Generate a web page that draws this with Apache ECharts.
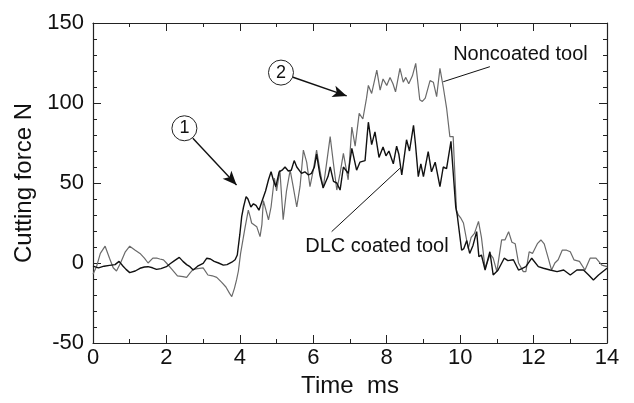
<!DOCTYPE html>
<html>
<head>
<meta charset="utf-8">
<script src="https://cdn.jsdelivr.net/npm/echarts@6/dist/echarts.min.js"></script>
<style>
  html, body { margin: 0; padding: 0; background: #fff; }
  #chart { width: 634px; height: 403px; }
</style>
</head>
<body>
<div id="chart"></div>
<script>
// time (ms) / force (N)
const noncoatedT = [0.0, 0.1, 0.2, 0.33, 0.45, 0.55, 0.64, 0.75, 0.88, 1.0, 1.15, 1.28, 1.4, 1.5, 1.63, 1.75, 1.82, 1.92, 2.0, 2.15, 2.3, 2.45, 2.55, 2.65, 2.73, 2.85, 3.0, 3.13, 3.25, 3.37, 3.5, 3.62, 3.72, 3.78, 3.85, 3.91, 3.96, 4.02, 4.08, 4.14, 4.23, 4.28, 4.32, 4.37, 4.46, 4.55, 4.6, 4.64, 4.7, 4.78, 4.85, 4.94, 5.0, 5.09, 5.18, 5.27, 5.37, 5.45, 5.55, 5.64, 5.73, 5.82, 5.91, 6.0, 6.09, 6.18, 6.27, 6.36, 6.46, 6.55, 6.64, 6.73, 6.82, 6.95, 7.05, 7.14, 7.25, 7.35, 7.45, 7.5, 7.59, 7.73, 7.82, 7.9, 8.0, 8.09, 8.17, 8.24, 8.36, 8.45, 8.52, 8.6, 8.7, 8.79, 8.9, 8.97, 9.05, 9.18, 9.27, 9.36, 9.45, 9.54, 9.63, 9.72, 9.81, 9.9, 9.95, 10.02, 10.09, 10.22, 10.3, 10.39, 10.5, 10.58, 10.68, 10.82, 10.9, 11.0, 11.13, 11.22, 11.32, 11.41, 11.5, 11.59, 11.72, 11.79, 11.88, 11.97, 12.11, 12.2, 12.29, 12.4, 12.49, 12.58, 12.67, 12.78, 12.9, 13.0, 13.1, 13.25, 13.4, 13.54, 13.7, 13.86, 14.0];
const noncoatedF = [-7, -2, 6, 10.5, 3, -3, -5, 0, 7, 10.5, 8, 6, 3, 0, 3, 3, 2.5, 2, 0, -4, -8, -8.5, -9, -6, -4, -3.5, -3, -7.5, -8, -9, -12, -15, -19, -21, -16, -10.6, -5, 6, 14, 22, 33, 29, 25, 26, 22.7, 16.5, 24, 39, 34, 27, 35, 53, 45, 58, 27, 45, 58, 48, 35, 48, 70.6, 63, 47.7, 58, 70.6, 58, 46.7, 62, 79, 62, 45.6, 56, 68.5, 52, 85, 73, 93.5, 90, 103, 111, 106, 120.6, 108, 115, 111, 116, 112, 107, 121.7, 113, 116, 112, 117, 124.8, 102, 101, 103, 114, 113, 104, 121.7, 110, 97, 79, 79, 33, 30, 28, 25, 9, 16, 18.5, 26, 16, -3.3, 5.6, 3, -5.4, 14.4, 14.4, 19.6, 13, 12, 0, -5.4, -5.4, 7, 6, 12.3, 14.4, 12, 3, -4.4, 0, 2, 8, 8, 7, 2, 1, -4.4, 3, 3, -1.3, -2.3];

const dlcT = [0.0, 0.15, 0.3, 0.45, 0.6, 0.71, 0.82, 0.9, 1.0, 1.15, 1.28, 1.4, 1.5, 1.62, 1.73, 1.85, 2.0, 2.1, 2.22, 2.35, 2.45, 2.55, 2.64, 2.73, 2.85, 3.0, 3.1, 3.2, 3.3, 3.42, 3.55, 3.65, 3.78, 3.87, 3.93, 4.0, 4.05, 4.1, 4.17, 4.22, 4.3, 4.37, 4.44, 4.52, 4.55, 4.61, 4.7, 4.78, 4.85, 4.91, 4.98, 5.07, 5.15, 5.23, 5.32, 5.4, 5.48, 5.55, 5.68, 5.77, 5.87, 5.95, 6.03, 6.09, 6.18, 6.27, 6.32, 6.4, 6.46, 6.55, 6.64, 6.73, 6.82, 6.95, 7.05, 7.09, 7.18, 7.27, 7.32, 7.41, 7.48, 7.5, 7.59, 7.68, 7.79, 7.9, 7.98, 8.06, 8.18, 8.27, 8.33, 8.41, 8.54, 8.62, 8.73, 8.78, 8.86, 8.93, 9.0, 9.13, 9.22, 9.32, 9.45, 9.54, 9.63, 9.75, 9.8, 9.88, 9.92, 10.04, 10.1, 10.18, 10.26, 10.35, 10.45, 10.51, 10.58, 10.68, 10.81, 10.9, 11.03, 11.2, 11.3, 11.45, 11.59, 11.68, 11.79, 11.95, 12.13, 12.27, 12.45, 12.64, 12.82, 13.0, 13.18, 13.36, 13.5, 13.63, 13.77, 14.0];
const dlcF = [-2, -3, -2, -1.5, -1, 1, -2, -4, -6, -5, -3.3, -2.5, -2.3, -3, -4, -3.5, -2.3, -0.5, 1.5, 3.5, 1, -1, -2.3, -4.4, -2, -0.2, 3, 2.5, 1, 0, -1.3, -1, 0.5, 2, 5, 18, 29, 35, 41.5, 40, 35, 37, 36, 33, 32, 39, 45, 52, 57, 52, 47.7, 57, 58, 60, 57.5, 58, 64, 60, 56, 57, 55, 56, 60, 68, 55, 47, 46, 54, 60, 51, 50, 45.6, 60, 56, 71.7, 72, 58, 63, 63, 64, 83, 88, 74, 82, 66, 72.5, 67, 70, 62, 73, 68, 55, 77, 70, 86, 75, 54, 62, 54, 69.6, 57, 63, 47.7, 60, 59, 76, 60, 35, 30, 8, 9, 14, 6, 11, 19.6, 4, 5, -4.4, 7, -7.5, -4.5, 3, 1.5, 2, -4.4, -3.5, -2.3, 3, -2.3, -3.3, -4.4, -5.4, -4.4, -7.5, -4.4, -4.4, -7.5, -10.6, -7.5, -3.3];

const xTicks = [0, 14, 2];      // min, max, step
const yTicks = [-50, 150, 50];

const font = '"Liberation Sans", Arial, sans-serif';

const chart = echarts.init(document.getElementById('chart'));

const axisBase = {
    axisLine: { show: true, onZero: false, lineStyle: { color: '#222', width: 1.2 } },
    axisTick: { show: true, inside: true, length: 8, lineStyle: { color: '#222', width: 1 } },
    minorTick: { show: true, length: 4, lineStyle: { color: '#222', width: 1 } },
    splitLine: { show: false }
};

const pair = (ts, fs) => ts.map((t, i) => [t, fs[i]]);

chart.setOption({
    animation: false,
    backgroundColor: '#fff',
    grid: { left: 93, right: 27, top: 23, bottom: 60 },
    xAxis: [
        Object.assign({}, axisBase, {
            type: 'value', min: xTicks[0], max: xTicks[1], interval: xTicks[2],
            minorTick: Object.assign({}, axisBase.minorTick, { splitNumber: 2 }),
            axisLabel: { color: '#111', fontSize: 22, fontFamily: font, margin: 4 },
            name: 'Time  ms', nameLocation: 'middle', nameGap: 30,
            nameTextStyle: { color: '#111', fontSize: 24, fontFamily: font }
        }),
        Object.assign({}, axisBase, {
            type: 'value', position: 'top', min: xTicks[0], max: xTicks[1], interval: xTicks[2],
            minorTick: Object.assign({}, axisBase.minorTick, { splitNumber: 2 }),
            axisLabel: { show: false }
        })
    ],
    yAxis: [
        Object.assign({}, axisBase, {
            type: 'value', min: yTicks[0], max: yTicks[1], interval: yTicks[2],
            minorTick: Object.assign({}, axisBase.minorTick, { splitNumber: 5 }),
            axisLabel: { color: '#111', fontSize: 22, fontFamily: font, margin: 9 },
            name: 'Cutting force N', nameLocation: 'middle', nameGap: 54,
            nameTextStyle: { color: '#111', fontSize: 24, fontFamily: font }
        }),
        Object.assign({}, axisBase, {
            type: 'value', position: 'right', min: yTicks[0], max: yTicks[1], interval: yTicks[2],
            minorTick: Object.assign({}, axisBase.minorTick, { splitNumber: 5 }),
            axisLabel: { show: false }
        })
    ],
    series: [
        {
            name: 'Noncoated tool',
            type: 'line',
            data: pair(noncoatedT, noncoatedF),
            showSymbol: false,
            lineStyle: { color: '#6a6a6a', width: 1.2 },
            markPoint: {
                symbol: 'circle', symbolSize: 0,
                label: { show: true, position: 'right', distance: 0, color: '#111', fontSize: 20, fontFamily: font },
                data: [{ coord: [9.81, 130.6], value: 'Noncoated tool' }]
            },
            markLine: {
                silent: true, symbol: ['none', 'none'],
                label: { show: false },
                lineStyle: { color: '#111', width: 1, type: 'solid' },
                data: [[{ coord: [10.81, 122.7] }, { coord: [9.54, 113.3] }]]
            }
        },
        {
            name: 'DLC coated tool',
            type: 'line',
            data: pair(dlcT, dlcF),
            showSymbol: false,
            lineStyle: { color: '#111', width: 1.4 },
            markPoint: {
                label: { show: true, color: '#111', fontFamily: font },
                data: [
                    { coord: [2.49, 84.2], value: '1', symbol: 'circle', symbolSize: 25,
                      itemStyle: { color: '#fff', borderColor: '#222', borderWidth: 1 },
                      label: { fontSize: 18 } },
                    { coord: [5.12, 119], value: '2', symbol: 'circle', symbolSize: 25,
                      itemStyle: { color: '#fff', borderColor: '#222', borderWidth: 1 },
                      label: { fontSize: 18 } },
                    { coord: [5.78, 10.6], value: 'DLC coated tool', symbol: 'circle', symbolSize: 0,
                      label: { position: 'right', distance: 0, fontSize: 20 } }
                ]
            },
            markLine: {
                silent: true,
                label: { show: false },
                lineStyle: { color: '#111', width: 1.4, type: 'solid' },
                data: [
                    [{ coord: [2.72, 78], symbol: 'none' }, { coord: [3.91, 48.75], symbol: 'arrow', symbolSize: [9, 14] }],
                    [{ coord: [5.41, 116.4], symbol: 'none' }, { coord: [6.91, 104.4], symbol: 'arrow', symbolSize: [9, 14] }],
                    [{ coord: [6.5, 19.6], symbol: 'none' }, { coord: [8.36, 59.2], symbol: 'none', lineStyle: { width: 1 } }]
                ]
            }
        }
    ]
});
</script>
</body>
</html>
